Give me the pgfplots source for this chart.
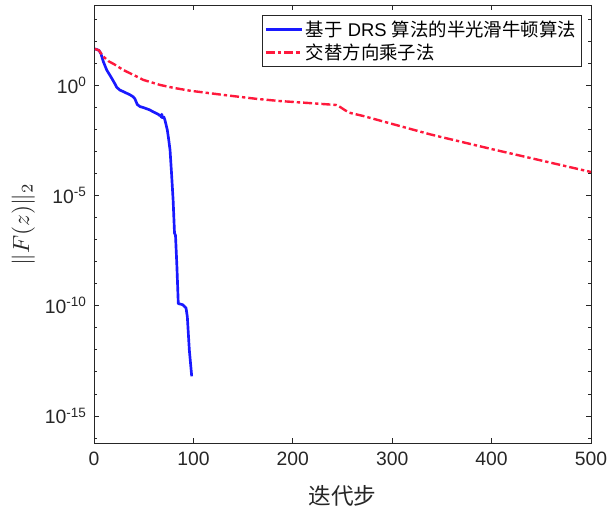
\documentclass[border=0pt]{standalone}
\usepackage{graphicx}
\usepackage[no-math]{fontspec}
\setmainfont{Liberation Sans}
\newfontfamily\cjk{Noto Sans CJK SC}
\usepackage{pgfplots}
\pgfplotsset{compat=1.18}
\definecolor{mblue}{RGB}{25,25,255}
\definecolor{mred}{RGB}{255,25,60}
\definecolor{axgray}{RGB}{38,38,38}
\begin{document}
\begin{tikzpicture}
\path[use as bounding box] (-70.5pt,-50.25pt) rectangle (384.75pt,332.25pt);
\begin{axis}[at={(0,0)}, anchor=south west, scale only axis,
  width=372.75pt, height=328.5pt,
  ymode=log, xmin=0, xmax=500, ymin=5.9e-17, ymax=4.6e3,
  xtick={0,100,200,300,400,500}, xticklabels={0,100,200,300,400,500},
  ytick={1e-15,1e-10,1e-5,1},
  yticklabels={10\textsuperscript{-15},10\textsuperscript{-10},10\textsuperscript{-5},10\textsuperscript{0}},
  minor ytick={1e-16,1e-14,1e-13,1e-12,1e-11,1e-9,1e-8,1e-7,1e-6,1e-4,1e-3,1e-2,1e-1,1e1,1e2,1e3},
  tick align=inside, major tick length=3.75pt, minor tick length=2.25pt,
  axis line style={axgray, line width=0.6pt},
  every tick/.style={axgray, line width=0.6pt},
  ticklabel style={font=\fontsize{14.5}{17}\selectfont, text=axgray},
  yticklabel style={xshift=-2pt},
  xticklabel style={yshift=-3pt},
  xlabel={\cjk 迭代步},
  xlabel style={at={(axis description cs:0.5,-0.1218)}, anchor=center, font=\fontsize{17}{20}\selectfont, text=axgray},
  ylabel={\scalebox{1.75}{$\|F(z)\|_2$}},
  ylabel style={at={(axis description cs:-0.1422,0.5)}, anchor=center, text=axgray},
  legend style={at={(axis description cs:0.981,0.977)}, anchor=north east,
    draw=axgray, line width=0.6pt, font=\fontsize{13.8}{16}\selectfont, row sep=0pt,
    inner xsep=2pt, inner ysep=2pt},
  legend cell align=left,
  legend image code/.code={\draw[#1] (0pt,0pt) -- (27pt,0pt);},
]
\addplot[mblue, line width=2pt, line join=round] coordinates {
(1,46.8) (5,40) (7,28) (9.4,12.3) (12.8,5.13) (17.8,2.19) (21.1,1.20) (22.8,0.851)
(26,0.63) (29.5,0.537) (33,0.45) (36,0.39) (39.5,0.31) (41.2,0.25) (42.5,0.18)
(43.5,0.14) (46.3,0.112) (50,0.100) (56,0.0794) (60,0.0631) (64.7,0.0501)
(66,0.044) (67,0.046) (67.6,0.037) (68.2,0.050) (69,0.035) (70.4,0.037)
(71.4,0.027) (73.7,0.010) (75,4.0e-3) (76.5,1.20e-3) (78,1.05e-4) (79.6,6.31e-6)
(81,2.00e-7) (82,1.58e-7) (83.4,6.31e-9) (84.8,1.26e-10) (87,1.20e-10)
(89.2,1.12e-10) (90.5,1.00e-10) (92.6,7.94e-11) (93.9,3.16e-11) (95.9,1.0e-12) (98.3,6.31e-14)
};
\addlegendentry{{\cjk 基于} DRS {\cjk 算法的半光滑牛顿算法}}
\addplot[mred, line width=1.8pt, dash pattern=on 6.75pt off 2.25pt on 2.5pt off 2.25pt] coordinates {
(1,46.8) (5,39.8) (9.4,20.9) (15,12.6) (20,9.55) (29.5,5.13) (40,3.02) (49.7,1.82)
(66.7,1.07) (80,0.794) (96.6,0.589) (130,0.380) (163.7,0.251) (187,0.200)
(220,0.158) (244,0.132) (248,0.105) (252,0.0794) (257,0.0589) (271,0.0417)
(288,0.0257) (338,6.17e-3) (348,4.79e-3) (400,1.32e-3) (450,3.98e-4) (500,1.20e-4)
};
\addlegendentry{{\cjk 交替方向乘子法}}
\end{axis}
\end{tikzpicture}
\end{document}
